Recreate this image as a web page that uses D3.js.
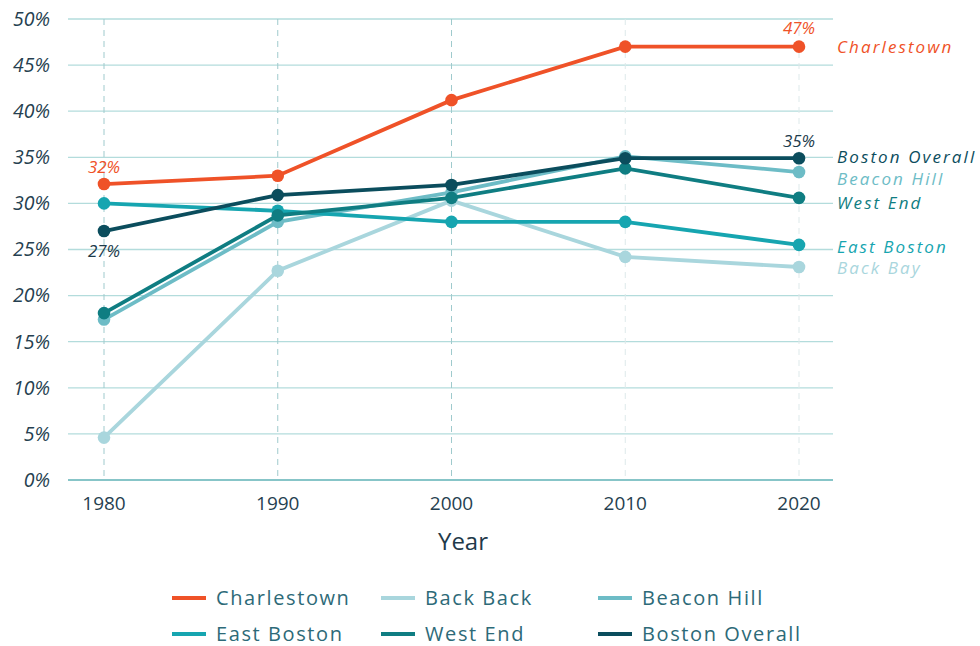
<!DOCTYPE html>
<html>
<head>
<meta charset="utf-8">
<script src="https://cdnjs.cloudflare.com/ajax/libs/d3/7.8.5/d3.min.js"></script>
<style>
  body { margin: 0; background: #fff; }
  svg text { font-family: "Open Sans", sans-serif; }
</style>
</head>
<body>
<svg id="chart" width="980" height="646"></svg>
<script>
// chart data
var years = [1980, 1990, 2000, 2010, 2020];
var yTicks = [0, 5, 10, 15, 20, 25, 30, 35, 40, 45, 50];

var charlestown   = [32.1, 33.0, 41.2, 47.0, 47.0];
var backBay       = [4.6, 22.7, 30.3, 24.2, 23.1];
var beaconHill    = [17.4, 28.0, 31.2, 35.1, 33.4];
var eastBoston    = [30.0, 29.2, 28.0, 28.0, 25.5];
var westEnd       = [18.1, 28.7, 30.6, 33.8, 30.6];
var bostonOverall = [27.0, 30.9, 32.0, 34.9, 34.9];

var seriesNames  = ["Charlestown", "Back Bay", "Beacon Hill", "East Boston", "West End", "Boston Overall"];
var legendNames  = ["Charlestown", "Back Back", "Beacon Hill", "East Boston", "West End", "Boston Overall"];
var seriesColors = ["#ef5228", "#a9d6dd", "#6dbcc6", "#16a5b0", "#0f7d82", "#0b4d5d"];
var seriesValues = [charlestown, backBay, beaconHill, eastBoston, westEnd, bostonOverall];

// end labels on the right, with the y they sit on (in data units)
var endLabelY = [47.0, 23.0, 32.6, 25.3, 30.0, 35.0];

var svg = d3.select("#chart");

var x = d3.scaleLinear().domain([1980, 2020]).range([104, 799]);
var y = d3.scaleLinear().domain([0, 50]).range([480, 19]);
var left = 68, right = 833;

// horizontal grid
svg.append("g").selectAll("line")
  .data(yTicks.filter(function(d) { return d > 0; }))
  .enter().append("line")
  .attr("x1", left).attr("x2", right)
  .attr("y1", function(d) { return y(d); })
  .attr("y2", function(d) { return y(d); })
  .attr("stroke", "#b3dcdc")
  .attr("stroke-width", 1.3);

// vertical dashed year lines
svg.append("g").selectAll("line")
  .data(years)
  .enter().append("line")
  .attr("x1", function(d) { return x(d); })
  .attr("x2", function(d) { return x(d); })
  .attr("y1", y(50)).attr("y2", y(0))
  .attr("stroke", function(d) { return d >= 2010 ? "#dde9ea" : "#9fcacd"; })
  .attr("stroke-width", 1)
  .attr("stroke-dasharray", "6,5");

// base line
svg.append("line")
  .attr("x1", left).attr("x2", right)
  .attr("y1", y(0)).attr("y2", y(0))
  .attr("stroke", "#5fb2b6").attr("stroke-width", 1.5);

// y tick labels
svg.append("g").selectAll("text")
  .data(yTicks)
  .enter().append("text")
  .attr("x", 50)
  .attr("y", function(d) { return y(d); })
  .attr("dy", "0.35em")
  .attr("text-anchor", "end")
  .attr("font-size", 19.5)
  .attr("font-style", "italic")
  .attr("fill", "#263f50")
  .text(function(d) { return d + "%"; });

// x tick labels
svg.append("g").selectAll("text")
  .data(years)
  .enter().append("text")
  .attr("x", function(d) { return x(d); })
  .attr("y", 510)
  .attr("text-anchor", "middle")
  .attr("font-size", 19)
  .attr("fill", "#263f50")
  .text(function(d) { return d; });

svg.append("text")
  .attr("x", 463).attr("y", 550)
  .attr("text-anchor", "middle")
  .attr("font-size", 24)
  .attr("fill", "#1f3a4a")
  .text("Year");

// lines + markers, drawn light first so dark ones sit on top
var drawOrder = [1, 2, 3, 4, 5, 0];
var line = d3.line()
  .x(function(d, i) { return x(years[i]); })
  .y(function(d) { return y(d); });

drawOrder.forEach(function(k) {
  var g = svg.append("g");
  g.append("path")
    .datum(seriesValues[k])
    .attr("d", line)
    .attr("fill", "none")
    .attr("stroke", seriesColors[k])
    .attr("stroke-width", 3.8);
  g.selectAll("circle")
    .data(seriesValues[k])
    .enter().append("circle")
    .attr("cx", function(d, i) { return x(years[i]); })
    .attr("cy", function(d) { return y(d); })
    .attr("r", 6.3)
    .attr("fill", seriesColors[k]);
});

// right side labels
svg.append("g").selectAll("text")
  .data(seriesNames)
  .enter().append("text")
  .attr("x", 837)
  .attr("y", function(d, i) { return y(endLabelY[i]); })
  .attr("dy", "0.35em")
  .attr("font-size", 17)
  .attr("font-style", "italic")
  .attr("letter-spacing", 2.1)
  .attr("fill", function(d, i) { return seriesColors[i]; })
  .text(function(d) { return d; });

// value callouts
var callouts = [
  {year: 1980, v: charlestown[0], text: "32%", color: seriesColors[0], dy: -17},
  {year: 1980, v: bostonOverall[0], text: "27%", color: "#1d3b4b", dy: 20},
  {year: 2020, v: charlestown[4], text: "47%", color: seriesColors[0], dy: -19},
  {year: 2020, v: bostonOverall[4], text: "35%", color: "#1d3b4b", dy: -17}
];
svg.append("g").selectAll("text")
  .data(callouts)
  .enter().append("text")
  .attr("x", function(d) { return x(d.year); })
  .attr("y", function(d) { return y(d.v) + d.dy; })
  .attr("dy", "0.35em")
  .attr("text-anchor", "middle")
  .attr("font-size", 17)
  .attr("font-style", "italic")
  .attr("fill", function(d) { return d.color; })
  .text(function(d) { return d.text; });

// legend
var legendX = [172, 381, 598];
var legendY = [598, 634];
var legend = svg.append("g").selectAll("g")
  .data(legendNames)
  .enter().append("g")
  .attr("transform", function(d, i) {
    return "translate(" + legendX[i % 3] + "," + legendY[Math.floor(i / 3)] + ")";
  });
legend.append("line")
  .attr("x1", 0).attr("x2", 34)
  .attr("y1", 0).attr("y2", 0)
  .attr("stroke", function(d, i) { return seriesColors[i]; })
  .attr("stroke-width", 4);
legend.append("text")
  .attr("x", 44).attr("y", 0)
  .attr("dy", "0.35em")
  .attr("font-size", 20)
  .attr("letter-spacing", 1.6)
  .attr("fill", "#2d6a78")
  .text(function(d) { return d; });
</script>
</body>
</html>
